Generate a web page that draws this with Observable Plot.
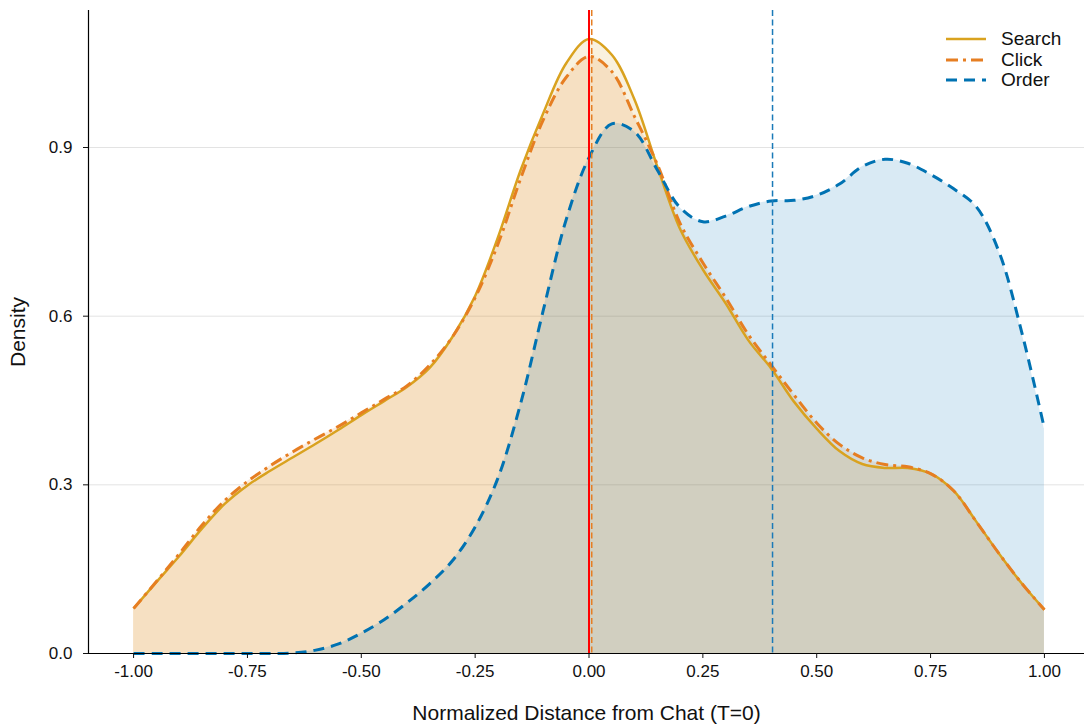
<!DOCTYPE html>
<html>
<head>
<meta charset="utf-8">
<script src="https://cdn.jsdelivr.net/npm/d3@7"></script>
<script src="https://cdn.jsdelivr.net/npm/@observablehq/plot@0.6"></script>
<style>
  body { margin: 0; background: #fff; }
  #wrap { position: relative; width: 1084px; height: 725px; font-family: "Liberation Sans", Arial, sans-serif; }
  #legend { position: absolute; left: 946px; top: 29px; }
  .row { display: flex; align-items: center; height: 20.5px; font-size: 19px; color: #111; }
  .row svg { margin-right: 15px; }
</style>
</head>
<body>
<div id="wrap"><div id="legend"></div></div>
<script>
// ---- data ----
const xs = [-1.00,-0.95,-0.90,-0.85,-0.80,-0.75,-0.70,-0.65,-0.60,-0.55,-0.50,-0.45,-0.40,-0.35,-0.30,-0.25,-0.20,-0.15,-0.10,-0.05,
             0.00,0.05,0.10,0.15,0.20,0.25,0.30,0.35,0.40,0.45,0.50,0.55,0.60,0.65,0.70,0.75,0.80,0.85,0.90,0.95,1.00];
const searchDensity = [0.080,0.127,0.173,0.222,0.266,0.299,0.325,0.349,0.373,0.398,0.424,0.449,0.474,0.508,0.563,0.636,0.740,0.860,0.962,1.050,
                       1.093,1.065,0.985,0.866,0.755,0.683,0.623,0.557,0.507,0.448,0.400,0.360,0.337,0.330,0.330,0.320,0.290,0.235,0.178,0.125,0.078];
const clickDensity  = [0.080,0.128,0.177,0.228,0.272,0.306,0.334,0.359,0.382,0.404,0.428,0.452,0.476,0.513,0.563,0.633,0.728,0.845,0.950,1.025,
                       1.062,1.035,0.955,0.870,0.765,0.695,0.633,0.567,0.513,0.460,0.410,0.372,0.348,0.336,0.332,0.320,0.290,0.235,0.178,0.125,0.078];
const orderDensity  = [0.000,0.000,0.000,0.000,0.000,0.000,0.000,0.001,0.006,0.017,0.036,0.060,0.090,0.124,0.165,0.225,0.312,0.445,0.612,0.772,
                       0.882,0.942,0.928,0.860,0.793,0.768,0.778,0.795,0.805,0.806,0.815,0.835,0.866,0.879,0.872,0.852,0.827,0.795,0.715,0.572,0.400];
const seriesNames = ["Search", "Click", "Order"];
const seriesColors = ["#D9A21F", "#E67E22", "#0072B2"];
const seriesDash = [null, "12,5,3,5", "11,7"];
const seriesWidth = [2.5, 3, 3];
const chatLine = [0.0];
const clickMean = [0.006];
const orderMean = [0.403];
const xTicks = [-1.00,-0.75,-0.50,-0.25,0.00,0.25,0.50,0.75,1.00];
const yTicks = [0.0,0.3,0.6,0.9];
const xDomain = [-1.099, 1.088];
const yDomain = [0, 1.1437];

// ---- build ----
const seriesValues = [searchDensity, clickDensity, orderDensity];
const rows = seriesNames.map((name, i) => xs.map((x, j) => ({series: name, x, y: seriesValues[i][j]})));

const fillMarks = rows.map((r, i) => Plot.areaY(r, {x: "x", y: "y", fill: seriesColors[i], fillOpacity: 0.15, curve: "catmull-rom"}));
const lineMarks = rows.map((r, i) => Plot.line(r, {x: "x", y: "y", stroke: seriesColors[i], strokeWidth: seriesWidth[i],
  strokeDasharray: seriesDash[i] || undefined, curve: "catmull-rom", strokeLinecap: "butt"}));

const chart = Plot.plot({
  width: 1084, height: 725,
  marginLeft: 88, marginRight: 0, marginTop: 10, marginBottom: 72,
  style: {fontFamily: "Liberation Sans, Arial, sans-serif", background: "transparent", color: "#111"},
  x: {domain: xDomain},
  y: {domain: yDomain},
  marks: [
    Plot.gridY(yTicks.filter(d => d > 0), {stroke: "#e3e3e3", strokeOpacity: 1, strokeWidth: 1}),
    ...fillMarks,
    ...lineMarks,
    Plot.ruleX(clickMean, {stroke: "#E67E22", strokeWidth: 1.5, strokeDasharray: "6,3.5"}),
    Plot.ruleX(orderMean, {stroke: "#1a7ab8", strokeWidth: 1.5, strokeDasharray: "6,3.5"}),
    Plot.ruleX(chatLine, {stroke: "#FF0000", strokeWidth: 2}),
    Plot.ruleY([yDomain[0]], {stroke: "#000", strokeWidth: 1.2}),
    Plot.ruleX([xDomain[0]], {stroke: "#000", strokeWidth: 1.2}),
    Plot.axisX({ticks: xTicks, tickFormat: d => d.toFixed(2), tickSize: 5, tickPadding: 6, fontSize: 17, label: null}),
    Plot.axisY({ticks: yTicks, tickFormat: d => d.toFixed(1), tickSize: 5, tickPadding: 11, fontSize: 17, label: null}),
    Plot.axisX({ticks: [], label: "Normalized Distance from Chat (T=0)", labelAnchor: "center", labelArrow: "none", labelOffset: 66, fontSize: 21}),
    Plot.axisY({ticks: [], label: "Density", labelAnchor: "center", labelArrow: "none", labelOffset: 78, fontSize: 21})
  ]
});
document.getElementById("wrap").prepend(chart);

// legend
const legend = d3.select("#legend");
seriesNames.forEach((name, i) => {
  const row = legend.append("div").attr("class", "row");
  const svg = row.append("svg").attr("width", 40).attr("height", 10);
  svg.append("line").attr("x1", 0).attr("x2", 40).attr("y1", 5).attr("y2", 5)
    .attr("stroke", seriesColors[i]).attr("stroke-width", seriesWidth[i])
    .attr("stroke-dasharray", seriesDash[i]);
  row.append("span").text(name);
});
</script>
</body>
</html>
